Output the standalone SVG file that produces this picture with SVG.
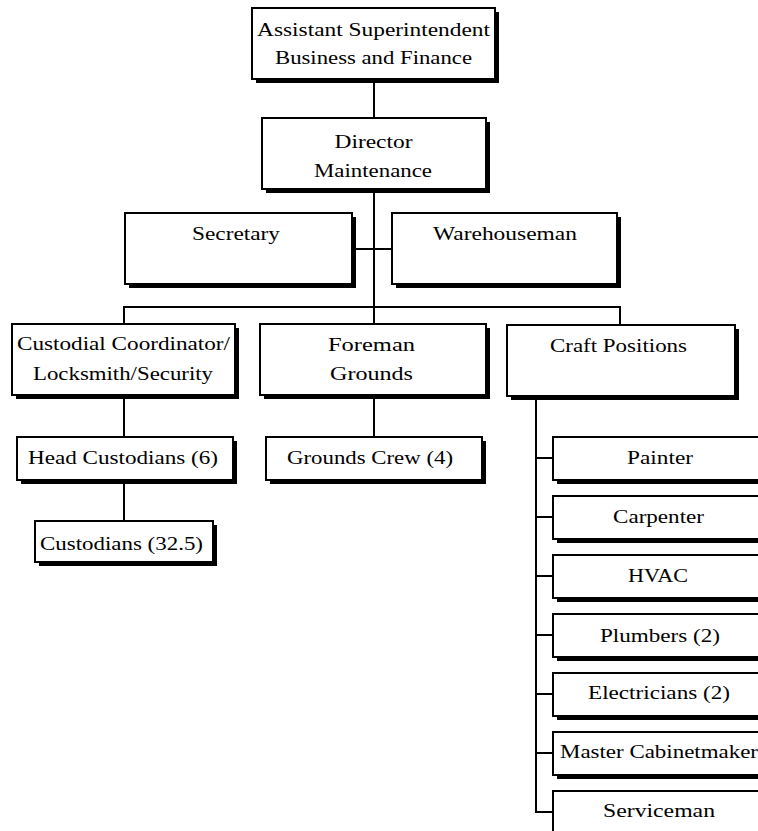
<svg xmlns="http://www.w3.org/2000/svg" width="758" height="831" viewBox="0 0 758 831">
  <style>
    .box { fill: #ffffff; stroke: #000000; stroke-width: 2; }
    .shadow { fill: #000000; }
    .lbl { font-family: "Liberation Serif", "Times New Roman", serif; font-size: 19px; fill: #000000; text-anchor: middle; }
    .wire { stroke: #000000; stroke-width: 2; fill: none; }
  </style>
  <defs>
    <!-- drop shadow offset shared by every box -->
  </defs>
  <rect width="758" height="831" fill="#ffffff"/>

  <g id="connectors">
    <line class="wire" x1="374" y1="80" x2="374" y2="118"/>
    <line class="wire" x1="374" y1="190" x2="374" y2="307"/>
    <line class="wire" x1="354" y1="249" x2="392" y2="249"/>
    <line class="wire" x1="123" y1="307" x2="621" y2="307"/>
    <line class="wire" x1="124" y1="306" x2="124" y2="324"/>
    <line class="wire" x1="374" y1="306" x2="374" y2="324"/>
    <line class="wire" x1="620" y1="306" x2="620" y2="325"/>
    <line class="wire" x1="124" y1="396" x2="124" y2="437"/>
    <line class="wire" x1="124" y1="481" x2="124" y2="521"/>
    <line class="wire" x1="374" y1="396" x2="374" y2="437"/>
    <line class="wire" x1="536" y1="397" x2="536" y2="813"/>
    <line class="wire" x1="535" y1="458" x2="553" y2="458"/>
    <line class="wire" x1="535" y1="517" x2="553" y2="517"/>
    <line class="wire" x1="535" y1="576" x2="553" y2="576"/>
    <line class="wire" x1="535" y1="635" x2="553" y2="635"/>
    <line class="wire" x1="535" y1="694" x2="553" y2="694"/>
    <line class="wire" x1="535" y1="753" x2="553" y2="753"/>
    <line class="wire" x1="535" y1="812" x2="553" y2="812"/>
  </g>

  <g id="asst-superintendent">
    <rect class="shadow" x="256" y="12" width="243" height="71"/>
    <rect class="box" x="252" y="8" width="243" height="71"/>
    <text class="lbl" x="373.5" y="36" textLength="233" lengthAdjust="spacingAndGlyphs">Assistant Superintendent</text>
    <text class="lbl" x="373.5" y="64" textLength="197" lengthAdjust="spacingAndGlyphs">Business and Finance</text>
  </g>

  <g id="director-maintenance">
    <rect class="shadow" x="266" y="122" width="224" height="71"/>
    <rect class="box" x="262" y="118" width="224" height="71"/>
    <text class="lbl" x="373.5" y="148" textLength="78" lengthAdjust="spacingAndGlyphs">Director</text>
    <text class="lbl" x="373" y="177" textLength="118" lengthAdjust="spacingAndGlyphs">Maintenance</text>
  </g>

  <g id="secretary">
    <rect class="shadow" x="129" y="217" width="227" height="71"/>
    <rect class="box" x="125" y="213" width="227" height="71"/>
    <text class="lbl" x="236" y="240" textLength="88" lengthAdjust="spacingAndGlyphs">Secretary</text>
  </g>

  <g id="warehouseman">
    <rect class="shadow" x="396" y="217" width="225" height="71"/>
    <rect class="box" x="392" y="213" width="225" height="71"/>
    <text class="lbl" x="505" y="240" textLength="144" lengthAdjust="spacingAndGlyphs">Warehouseman</text>
  </g>

  <g id="custodial-coordinator">
    <rect class="shadow" x="16" y="328" width="223" height="71"/>
    <rect class="box" x="12" y="324" width="223" height="71"/>
    <text class="lbl" x="123.5" y="350" textLength="213" lengthAdjust="spacingAndGlyphs">Custodial Coordinator/</text>
    <text class="lbl" x="123" y="380" textLength="180" lengthAdjust="spacingAndGlyphs">Locksmith/Security</text>
  </g>

  <g id="foreman-grounds">
    <rect class="shadow" x="264" y="328" width="226" height="71"/>
    <rect class="box" x="260" y="324" width="226" height="71"/>
    <text class="lbl" x="371.5" y="351" textLength="87" lengthAdjust="spacingAndGlyphs">Foreman</text>
    <text class="lbl" x="371.5" y="380" textLength="83" lengthAdjust="spacingAndGlyphs">Grounds</text>
  </g>

  <g id="craft-positions">
    <rect class="shadow" x="511" y="329" width="228" height="71"/>
    <rect class="box" x="507" y="325" width="228" height="71"/>
    <text class="lbl" x="618.5" y="352" textLength="137" lengthAdjust="spacingAndGlyphs">Craft Positions</text>
  </g>

  <g id="head-custodians">
    <rect class="shadow" x="21" y="441" width="216" height="43"/>
    <rect class="box" x="17" y="437" width="216" height="43"/>
    <text class="lbl" x="123" y="464" textLength="190" lengthAdjust="spacingAndGlyphs">Head Custodians (6)</text>
  </g>

  <g id="grounds-crew">
    <rect class="shadow" x="270" y="441" width="216" height="43"/>
    <rect class="box" x="266" y="437" width="216" height="43"/>
    <text class="lbl" x="370" y="464" textLength="166" lengthAdjust="spacingAndGlyphs">Grounds Crew (4)</text>
  </g>

  <g id="custodians">
    <rect class="shadow" x="39" y="525" width="178" height="41"/>
    <rect class="box" x="35" y="521" width="178" height="41"/>
    <text class="lbl" x="121.5" y="550" textLength="163" lengthAdjust="spacingAndGlyphs">Custodians (32.5)</text>
  </g>

  <g id="painter">
    <rect class="shadow" x="557" y="441" width="214" height="43"/>
    <rect class="box" x="553" y="437" width="214" height="43"/>
    <text class="lbl" x="660" y="464" textLength="66" lengthAdjust="spacingAndGlyphs">Painter</text>
  </g>

  <g id="carpenter">
    <rect class="shadow" x="557" y="500" width="214" height="43"/>
    <rect class="box" x="553" y="496" width="214" height="43"/>
    <text class="lbl" x="658.5" y="523" textLength="91" lengthAdjust="spacingAndGlyphs">Carpenter</text>
  </g>

  <g id="hvac">
    <rect class="shadow" x="557" y="559" width="214" height="43"/>
    <rect class="box" x="553" y="555" width="214" height="43"/>
    <text class="lbl" x="658" y="582" textLength="60" lengthAdjust="spacingAndGlyphs">HVAC</text>
  </g>

  <g id="plumbers">
    <rect class="shadow" x="557" y="618" width="214" height="43"/>
    <rect class="box" x="553" y="614" width="214" height="43"/>
    <text class="lbl" x="660" y="642" textLength="120" lengthAdjust="spacingAndGlyphs">Plumbers (2)</text>
  </g>

  <g id="electricians">
    <rect class="shadow" x="557" y="677" width="214" height="43"/>
    <rect class="box" x="553" y="673" width="214" height="43"/>
    <text class="lbl" x="659" y="699" textLength="142" lengthAdjust="spacingAndGlyphs">Electricians (2)</text>
  </g>

  <g id="master-cabinetmaker">
    <rect class="shadow" x="557" y="736" width="214" height="43"/>
    <rect class="box" x="553" y="732" width="214" height="43"/>
    <text class="lbl" x="659" y="758" textLength="198" lengthAdjust="spacingAndGlyphs">Master Cabinetmaker</text>
  </g>

  <g id="serviceman">
    <rect class="shadow" x="557" y="795" width="214" height="43"/>
    <rect class="box" x="553" y="791" width="214" height="43"/>
    <text class="lbl" x="659" y="817" textLength="112" lengthAdjust="spacingAndGlyphs">Serviceman</text>
  </g>
</svg>
